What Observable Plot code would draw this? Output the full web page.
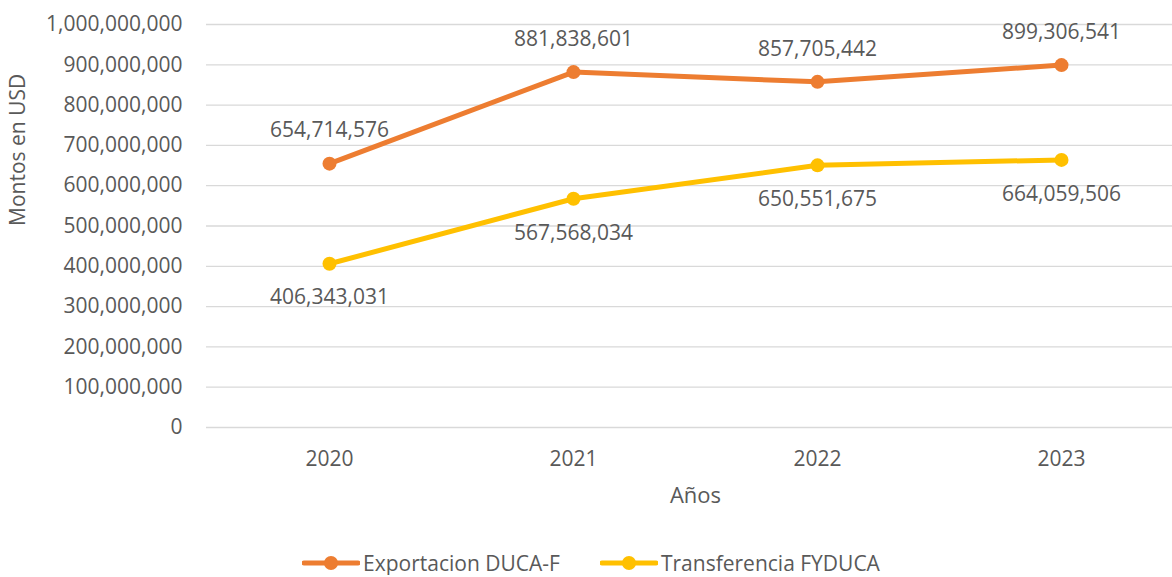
<!DOCTYPE html>
<html><head><meta charset="utf-8">
<script src="https://cdn.jsdelivr.net/npm/d3@7"></script>
<script src="https://cdn.jsdelivr.net/npm/@observablehq/plot@0.6"></script>
<style>
body{margin:0;background:#fff;font-family:"Open Sans",sans-serif;}
#legend{display:flex;justify-content:center;gap:40px;margin-top:26px;margin-left:10px;color:#595959;font-size:21px;line-height:24px;}
#legend span{display:flex;align-items:center;}
</style></head><body>
<div id="chart"></div>
<div id="legend"></div>
<script>
const years = ["2020","2021","2022","2023"];
const seriesNames = ["Exportacion DUCA-F","Transferencia FYDUCA"];
const exportacion = [654714576, 881838601, 857705442, 899306541];
const transferencia = [406343031, 567568034, 650551675, 664059506];
const yTicks = [0,100000000,200000000,300000000,400000000,500000000,600000000,700000000,800000000,900000000,1000000000];
const colors = ["#ED7D31","#FFC000"];

const data = [];
years.forEach((y,i)=>{
  data.push({year:y, value:exportacion[i], series:seriesNames[0]});
  data.push({year:y, value:transferencia[i], series:seriesNames[1]});
});
const fmt = d3.format(",");
const textColor = "#595959";

const plot = Plot.plot({
  width:1172, height:525,
  marginLeft:206, marginRight:0, marginTop:24, marginBottom:98,
  style:{fontFamily:"Open Sans, sans-serif", fontSize:"21px", color:textColor, background:"#fff"},
  x:{type:"point", domain:years, range:[328,1062], padding:0, label:null},
  y:{domain:[0,1000000000], ticks:yTicks, label:null},
  color:{domain:seriesNames, range:colors},
  marks:[
    Plot.ruleY(yTicks,{stroke:"#d9d9d9", strokeWidth:1.3}),
    Plot.axisY({ticks:yTicks, tickSize:0, tickPadding:24, tickFormat:fmt, fontSize:21, label:null}),
    Plot.axisX({tickSize:0, tickPadding:24, fontSize:21, label:null}),
    Plot.text(["Montos en USD"],{frameAnchor:"left", dx:-188, rotate:-90, fontSize:21, fill:textColor}),
    Plot.text(["Años"],{frameAnchor:"bottom", dy:75, dx:6, fontSize:22, fill:textColor}),
    Plot.line(data,{x:"year", y:"value", z:"series", stroke:"series", strokeWidth:5, strokeLinecap:"round"}),
    Plot.dot(data,{x:"year", y:"value", fill:"series", r:7}),
    Plot.text(data.filter(d=>d.series===seriesNames[0]),{x:"year", y:"value", text:d=>fmt(d.value), dy:-33, fontSize:21, fill:textColor}),
    Plot.text(data.filter(d=>d.series===seriesNames[1]),{x:"year", y:"value", text:d=>fmt(d.value), dy:34, fontSize:21, fill:textColor})
  ]
});
document.getElementById("chart").appendChild(plot);

const leg = document.getElementById("legend");
seriesNames.forEach((n,i)=>{
  const s = document.createElement("span");
  s.innerHTML = `<svg width="58" height="16"><line x1="2" x2="56" y1="8" y2="8" stroke="${colors[i]}" stroke-width="5" stroke-linecap="round"/><circle cx="29" cy="8" r="7" fill="${colors[i]}"/></svg>`;
  const t = document.createElement("span");
  t.textContent = n;
  t.style.marginLeft = "3px";
  s.appendChild(t);
  leg.appendChild(s);
});
</script>
</body></html>
